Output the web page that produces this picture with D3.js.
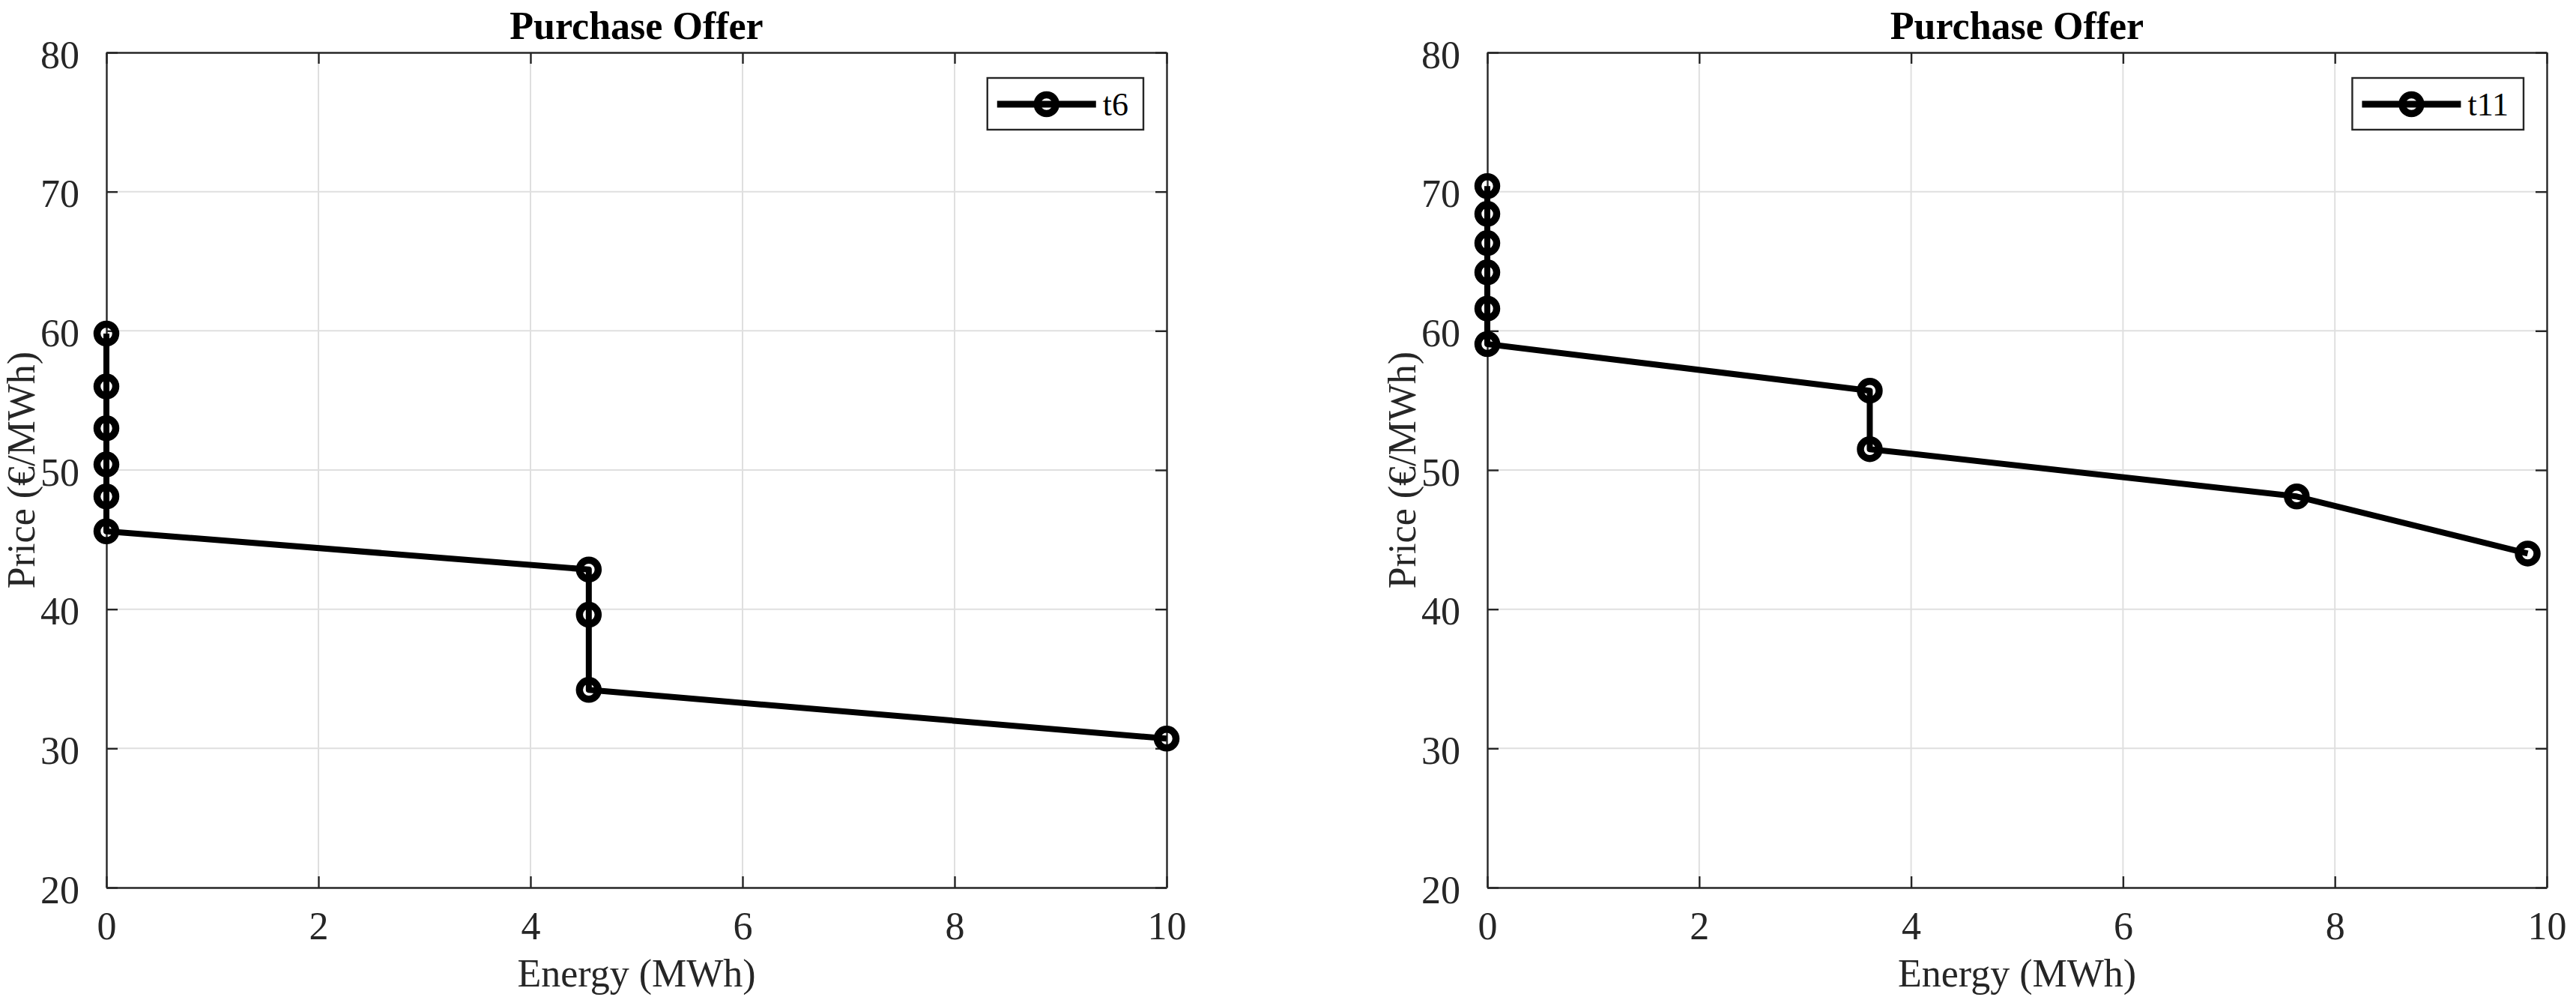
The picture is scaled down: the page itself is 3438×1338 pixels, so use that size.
<!DOCTYPE html>
<html>
<head>
<meta charset="utf-8">
<script src="https://cdn.jsdelivr.net/npm/d3@7"></script>
<style>
  html, body { margin: 0; padding: 0; background: #ffffff; }
  svg { display: block; }
</style>
</head>
<body>
<svg id="chart" width="3438" height="1338"></svg>
<script>
// ---- data ----
const chartTitle = "Purchase Offer";
const xLabel = "Energy (MWh)";
const yLabel = "Price (€/MWh)";
const xTicks = [0, 2, 4, 6, 8, 10];
const yTicks = [20, 30, 40, 50, 60, 70, 80];

const t6Name = "t6";
const t6Energy = [0, 0, 0, 0, 0, 0, 4.55, 4.55, 4.55, 10];
const t6Price  = [59.8, 56.0, 53.0, 50.4, 48.1, 45.6, 42.85, 39.6, 34.2, 30.7];

const t11Name = "t11";
const t11Energy = [0, 0, 0, 0, 0, 0, 3.61, 3.61, 7.64, 9.82];
const t11Price  = [70.4, 68.4, 66.3, 64.2, 61.6, 59.05, 55.7, 51.5, 48.1, 44.0];

// ---- layout ----
const svg = d3.select("#chart");
const FONT = "'Liberation Serif', 'Times New Roman', Times, serif";
const AX = "#262626";
const GRID = "#dfdfdf";
const plotTop = 70, plotBottom = 1184;
const panels = [
  { left: 142, right: 1557, name: t6Name, xs: t6Energy, ys: t6Price },
  { left: 1985, right: 3399, name: t11Name, xs: t11Energy, ys: t11Price }
];

panels.forEach(p => {
  const x = d3.scaleLinear().domain([0, 10]).range([p.left, p.right]);
  const y = d3.scaleLinear().domain([20, 80]).range([plotBottom, plotTop]);
  const g = svg.append("g");

  // grid
  g.append("g").selectAll("line").data(xTicks.slice(1, -1)).join("line")
    .attr("x1", d => x(d)).attr("x2", d => x(d))
    .attr("y1", plotTop).attr("y2", plotBottom)
    .attr("stroke", GRID).attr("stroke-width", 2);
  g.append("g").selectAll("line").data(yTicks.slice(1, -1)).join("line")
    .attr("y1", d => y(d)).attr("y2", d => y(d))
    .attr("x1", p.left).attr("x2", p.right)
    .attr("stroke", GRID).attr("stroke-width", 2);

  // axes (bottom / left with labels, top / right ticks only)
  const tickLen = 15;
  const xAxisB = d3.axisBottom(x).tickValues(xTicks).tickFormat(d3.format("d"))
    .tickSizeInner(-tickLen).tickSizeOuter(0).tickPadding(0);
  const xAxisT = d3.axisTop(x).tickValues(xTicks).tickFormat("")
    .tickSizeInner(-tickLen).tickSizeOuter(0);
  const yAxisL = d3.axisLeft(y).tickValues(yTicks).tickFormat(d3.format("d"))
    .tickSizeInner(-tickLen).tickSizeOuter(0).tickPadding(tickLen + 21);
  const yAxisR = d3.axisRight(y).tickValues(yTicks).tickFormat("")
    .tickSizeInner(-tickLen).tickSizeOuter(0);

  const gxb = g.append("g").attr("transform", `translate(0,${plotBottom})`).call(xAxisB);
  const gxt = g.append("g").attr("transform", `translate(0,${plotTop})`).call(xAxisT);
  const gyl = g.append("g").attr("transform", `translate(${p.left},0)`).call(yAxisL);
  const gyr = g.append("g").attr("transform", `translate(${p.right},0)`).call(yAxisR);
  [gxb, gxt, gyl, gyr].forEach(a => {
    a.select(".domain").attr("stroke", AX).attr("stroke-width", 2.4);
    a.selectAll(".tick line").attr("stroke", AX).attr("stroke-width", 2.4);
    a.selectAll(".tick text").attr("fill", AX)
      .style("font-family", FONT).style("font-size", "52px");
  });
  gxb.selectAll(".tick text").attr("dy", null).attr("y", 69);
  gyl.selectAll(".tick text").attr("dy", "0.39em");

  // title
  g.append("text").attr("x", (p.left + p.right) / 2).attr("y", 52)
    .attr("text-anchor", "middle").attr("fill", "#000")
    .style("font-family", FONT).style("font-size", "52px").style("font-weight", "bold")
    .text(chartTitle);
  // x label
  g.append("text").attr("x", (p.left + p.right) / 2).attr("y", 1316)
    .attr("text-anchor", "middle").attr("fill", AX)
    .style("font-family", FONT).style("font-size", "52px")
    .text(xLabel);
  // y label
  g.append("text")
    .attr("transform", `translate(${p.left - 96},${(plotTop + plotBottom) / 2}) rotate(-90)`)
    .attr("text-anchor", "middle").attr("fill", AX)
    .style("font-family", FONT).style("font-size", "52px")
    .text(yLabel);

  // data line
  const pts = p.xs.map((v, i) => [v, p.ys[i]]);
  const line = d3.line().x(d => x(d[0])).y(d => y(d[1]));
  g.append("path").datum(pts).attr("d", line)
    .attr("fill", "none").attr("stroke", "#000").attr("stroke-width", 8)
    .attr("stroke-linejoin", "round");
  g.append("g").selectAll("circle").data(pts).join("circle")
    .attr("cx", d => x(d[0])).attr("cy", d => y(d[1])).attr("r", 12.5)
    .attr("fill", "none").attr("stroke", "#000").attr("stroke-width", 9.5);

  // legend
  const lg = g.append("g");
  const lgTop = 104, lgH = 69, lineLen = 132;
  const txt = lg.append("text").attr("fill", "#000")
    .style("font-family", FONT).style("font-size", "44px").text(p.name);
  const tw = txt.node().getComputedTextLength();
  const lgW = 13 + lineLen + 9 + tw + 20;
  const lgLeft = p.right - 31 - lgW;
  lg.insert("rect", "text").attr("x", lgLeft).attr("y", lgTop)
    .attr("width", lgW).attr("height", lgH)
    .attr("fill", "#fff").attr("stroke", AX).attr("stroke-width", 2.4);
  const ly = lgTop + 35;
  lg.append("line").attr("x1", lgLeft + 13).attr("x2", lgLeft + 13 + lineLen)
    .attr("y1", ly).attr("y2", ly).attr("stroke", "#000").attr("stroke-width", 9);
  lg.append("circle").attr("cx", lgLeft + 13 + lineLen / 2).attr("cy", ly).attr("r", 12.5)
    .attr("fill", "none").attr("stroke", "#000").attr("stroke-width", 9.5);
  txt.attr("x", lgLeft + 13 + lineLen + 9).attr("y", lgTop + 50);
});
</script>
</body>
</html>
